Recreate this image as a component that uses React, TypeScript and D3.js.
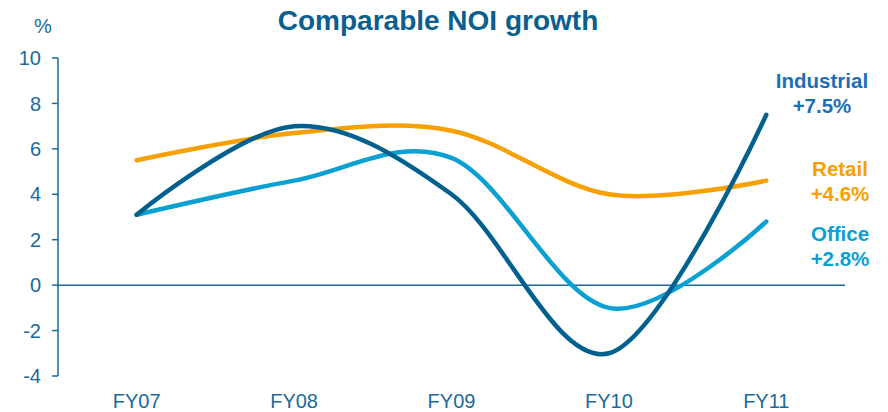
import React from "react";
import * as d3 from "d3";

const categories = ["FY07", "FY08", "FY09", "FY10", "FY11"];
const industrial = [3.1, 7.0, 4.0, -3.0, 7.5];
const retail = [5.5, 6.7, 6.8, 4.0, 4.6];
const office = [3.1, 4.6, 5.6, -1.0, 2.8];
const yTicks = [-4, -2, 0, 2, 4, 6, 8, 10];

const W = 888;
const H = 412;
const left = 58;
const right = 845;
const top = 58;
const bottom = 376;

const axisColor = "#1b6a9b";
const font = "'Liberation Sans', Arial, sans-serif";

const series = [
  { name: "Retail", values: retail, color: "#f7a000", label: ["Retail", "+4.6%"], lx: 840, ly: [176, 201] },
  { name: "Office", values: office, color: "#0aa0d2", label: ["Office", "+2.8%"], lx: 840, ly: [241, 266] },
  { name: "Industrial", values: industrial, color: "#00608e", textColor: "#1b6fb8", label: ["Industrial", "+7.5%"], lx: 822, ly: [88, 113] },
];

export default function App() {
  const x = d3.scaleBand<string>().domain(categories).range([left, right]);
  const y = d3.scaleLinear().domain([-4, 10]).range([bottom, top]);
  const cx = (c: string) => (x(c) as number) + x.bandwidth() / 2;
  const line = d3
    .line<number>()
    .x((_, i) => cx(categories[i]))
    .y((d) => y(d))
    .curve(d3.curveCardinal.tension(0));

  return (
    <svg width={W} height={H} style={{ position: "absolute", left: 0, top: 0 }} fontFamily={font}>
      <rect width={W} height={H} fill="#ffffff" />
      <text x={438} y={30} textAnchor="middle" fontSize={28} fontWeight="bold" fill="#0a5f8f">
        Comparable NOI growth
      </text>
      <text x={43} y={33} textAnchor="middle" fontSize={20} fill={axisColor}>%</text>
      {/* y axis */}
      <line x1={left} x2={left} y1={y(10)} y2={y(-4)} stroke={axisColor} strokeWidth={1.5} />
      {yTicks.map((t) => (
        <g key={t}>
          <line x1={left - 6} x2={left} y1={y(t)} y2={y(t)} stroke={axisColor} strokeWidth={1.5} />
          <text x={left - 17} y={y(t)} dy="0.36em" textAnchor="end" fontSize={20} fill={axisColor}>
            {t}
          </text>
        </g>
      ))}
      {/* zero line */}
      <line x1={left} x2={right} y1={y(0)} y2={y(0)} stroke={axisColor} strokeWidth={1.5} />
      {categories.map((c) => (
        <text key={c} x={cx(c)} y={408} textAnchor="middle" fontSize={20} fill={axisColor}>
          {c}
        </text>
      ))}
      {series.map((s) => (
        <path key={s.name} d={line(s.values) || ""} fill="none" stroke={s.color} strokeWidth={4.5} strokeLinecap="round" />
      ))}
      {series.map((s) => (
        <g key={s.name + "-lbl"}>
          {s.label.map((t, i) => (
            <text key={i} x={s.lx} y={s.ly[i]} textAnchor="middle" fontSize={20.5} fontWeight="bold" fill={s.textColor || s.color}>
              {t}
            </text>
          ))}
        </g>
      ))}
    </svg>
  );
}
